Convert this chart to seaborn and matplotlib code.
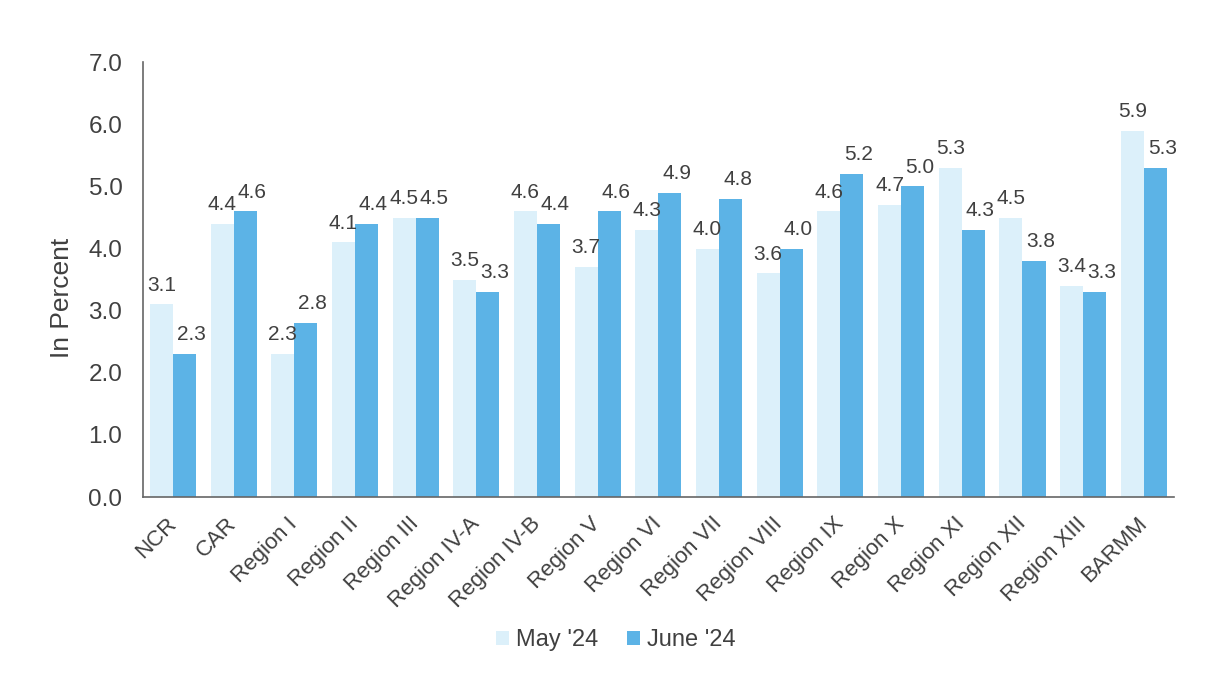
"""Regional rates, May vs June 2024, grouped bar chart."""

import matplotlib
matplotlib.use("Agg")
import matplotlib.pyplot as plt
import pandas as pd
import seaborn as sns

regions = ["NCR", "CAR", "Region I", "Region II", "Region III", "Region IV-A",
           "Region IV-B", "Region V", "Region VI", "Region VII", "Region VIII",
           "Region IX", "Region X", "Region XI", "Region XII", "Region XIII", "BARMM"]
may_24 = [3.1, 4.4, 2.3, 4.1, 4.5, 3.5, 4.6, 3.7, 4.3, 4.0, 3.6, 4.6, 4.7, 5.3, 4.5, 3.4, 5.9]
june_24 = [2.3, 4.6, 2.8, 4.4, 4.5, 3.3, 4.4, 4.6, 4.9, 4.8, 4.0, 5.2, 5.0, 4.3, 3.8, 3.3, 5.3]
series_names = ["May '24", "June '24"]
y_ticks = [0, 1, 2, 3, 4, 5, 6, 7]

df = pd.DataFrame({
    "Region": regions * 2,
    "Value": may_24 + june_24,
    "Month": [series_names[0]] * len(regions) + [series_names[1]] * len(regions),
})

sns.set_style("white")
plt.rcParams['font.family'] = ['Liberation Sans', 'DejaVu Sans']
text_color = '#404040'

fig = plt.figure(figsize=(12.08, 6.73), dpi=100)
ax = fig.add_axes([0.118, 0.2615, 0.854, 0.646])

palette = {series_names[0]: '#dcf0fa', series_names[1]: '#5cb3e6'}
sns.barplot(data=df, x="Region", y="Value", hue="Month", palette=palette,
            width=0.76, gap=0, saturation=1, linewidth=0, ax=ax, legend=True)

# June labels sit a little to the right so they don't collide with May labels
label_shift = [0, 5]
for container, dx in zip(ax.containers, label_shift):
    labels = ax.bar_label(container, fmt='%.1f', padding=7, fontsize=15, color=text_color)
    for lab in labels:
        lab.xyann = (dx, 7)

ax.set_ylim(0, 7)
ax.set_xlim(-0.5, len(regions) - 0.5)
ax.set_yticks(y_ticks)
ax.set_yticklabels([f"{t:.1f}" for t in y_ticks], fontsize=17.5, color=text_color)
ax.tick_params(axis='y', length=0, pad=14.5)
ax.tick_params(axis='x', length=0, pad=17)
plt.setp(ax.get_xticklabels(), rotation=45, ha='right', va='center',
         rotation_mode='anchor', fontsize=16, color=text_color)

ax.set_xlabel("")
ax.set_ylabel("In Percent", fontsize=19, color=text_color)
ax.yaxis.set_label_coords(-0.066, 0.457)

for side in ['top', 'right']:
    ax.spines[side].set_visible(False)
for side in ['left', 'bottom']:
    ax.spines[side].set_color('#666666')
    ax.spines[side].set_linewidth(1.2)

ax.legend(loc='upper center', bbox_to_anchor=(0.459, -0.255), ncol=2, frameon=False,
          fontsize=17, handlelength=0.55, handleheight=0.55, handletextpad=0.3,
          columnspacing=1.2, labelcolor=text_color)

fig.savefig("out.png", dpi=100)
plt.close(fig)
